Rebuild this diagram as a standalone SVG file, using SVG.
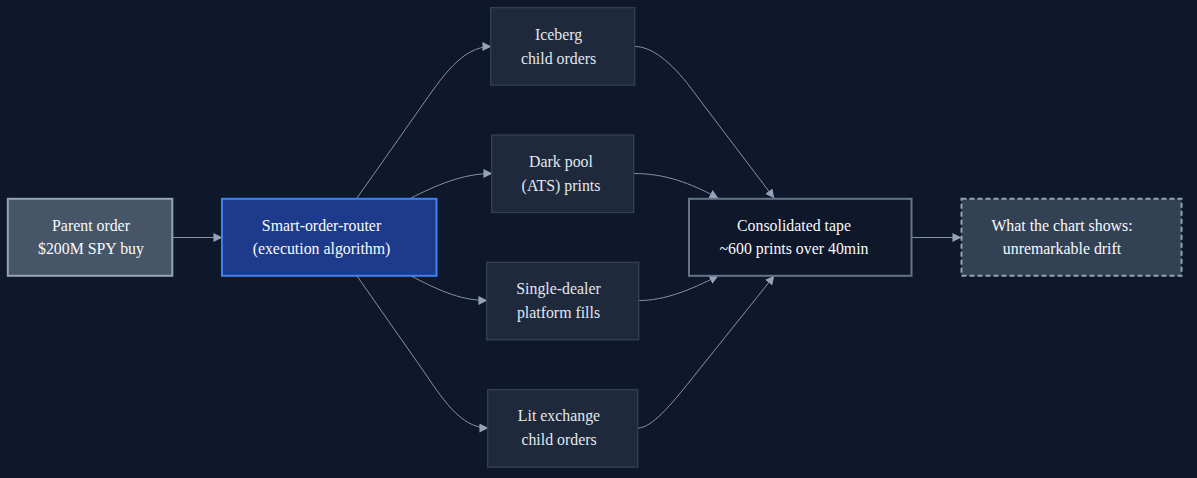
<svg xmlns="http://www.w3.org/2000/svg" width="1197" height="478" viewBox="0 0 1197 478">
<style>
text{font-family:"Liberation Serif","Times New Roman",serif;font-size:15.85px;text-anchor:middle}
.w{fill:#f8fafc}.l{fill:#e2e8f0}
.c{fill:none;stroke:#8492a6;stroke-width:1;marker-end:url(#a)}
.m{fill:#1e293b;stroke:#334155;stroke-width:1.3}
</style>
<defs><marker id="a" viewBox="0 0 10 10" refX="9.500" refY="5" markerWidth="9" markerHeight="9" markerUnits="userSpaceOnUse" orient="auto"><path d="M0 0L10 5L0 10z" fill="#94a3b8"/></marker></defs>
<rect width="1197" height="478" fill="#0f172a"/>
<g id="connectors">
<path class="c" d="M173 237.500H222"/>
<path class="c" d="M357 198L420 108.500C442 77 462 46.500 491 46.500"/>
<path class="c" d="M411 198C435 186 462 173.500 492 173.500"/>
<path class="c" d="M411 276C435 288 458 300.500 487 300.500"/>
<path class="c" d="M357 276L420 366C442 398 460 428 488 428"/>
<path class="c" d="M635 46.500C652 46.500 672 63 690 87L774 198"/>
<path class="c" d="M634 173.500C665 173.500 690 183 718 198"/>
<path class="c" d="M639 300.500C665 300.500 690 290 718 276"/>
<path class="c" d="M638 428C652 428 672 403.500 690 381L774 276"/>
<path class="c" d="M912 237.500H961"/>
</g>
<g id="parent"><rect x="7.800" y="198.800" width="164.500" height="77" fill="#475569" stroke="#94a3b8" stroke-width="2"/><text class="w" x="91" y="231">Parent order</text><text class="w" x="91" y="254">$200M SPY buy</text></g>
<g id="router"><rect x="222" y="198.800" width="214.500" height="77" fill="#1e3a8a" stroke="#3b82f6" stroke-width="2"/><text class="w" x="321.500" y="231">Smart-order-router</text><text class="w" x="321.500" y="254">(execution algorithm)</text></g>
<g id="iceberg"><rect class="m" x="490.700" y="7.700" width="144" height="77.500"/><text class="l" x="558.500" y="40">Iceberg</text><text class="l" x="558.500" y="64">child orders</text></g>
<g id="dark"><rect class="m" x="491.700" y="135" width="142" height="77.500"/><text class="l" x="561" y="167">Dark pool</text><text class="l" x="561" y="191">(ATS) prints</text></g>
<g id="single"><rect class="m" x="486.700" y="262.300" width="152" height="77.500"/><text class="l" x="558.500" y="294">Single-dealer</text><text class="l" x="558.500" y="318">platform fills</text></g>
<g id="lit"><rect class="m" x="487.700" y="389.700" width="150" height="77.500"/><text class="l" x="559" y="421">Lit exchange</text><text class="l" x="559" y="445">child orders</text></g>
<g id="tape"><rect x="689" y="198.800" width="222.500" height="77" fill="#0f172a" stroke="#64748b" stroke-width="2"/><text class="w" x="794" y="231">Consolidated tape</text><text class="w" x="794" y="254">~600 prints over 40min</text></g>
<g id="chart"><rect x="961.500" y="198.800" width="220" height="77" fill="#334155" stroke="#94a3b8" stroke-width="2" stroke-dasharray="5 3"/><text class="w" x="1062" y="231">What the chart shows:</text><text class="w" x="1062" y="254">unremarkable drift</text></g>
</svg>
